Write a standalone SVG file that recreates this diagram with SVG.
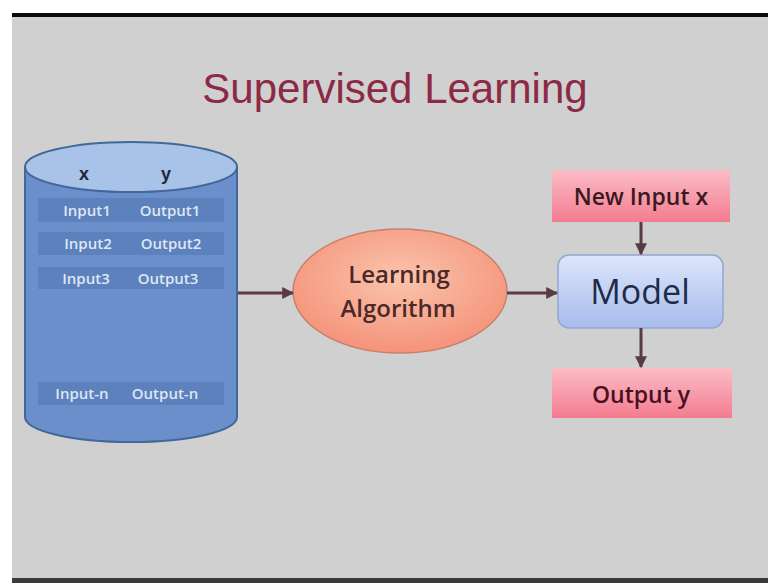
<svg xmlns="http://www.w3.org/2000/svg" width="768" height="583" viewBox="0 0 768 583">
  <defs>
    <style>
      .row { fill: #5b7fba; opacity: 0.9; }
      .rowtxt { font-family: "Open Sans", "Liberation Sans", sans-serif; font-size: 15px; font-weight: 600; fill: #dfe7f5; text-anchor: middle; }
      .hdr { font-family: "Liberation Sans", sans-serif; font-size: 18px; font-weight: bold; fill: #1c2740; text-anchor: middle; }
      .lbl { font-family: "Open Sans", "Liberation Sans", sans-serif; font-weight: 600; text-anchor: middle; }
      .lbl.reg { font-weight: 400; }
      .conn { stroke: #5a3a44; stroke-width: 3; fill: none; marker-end: url(#ah); }
    </style>
    <marker id="ah" viewBox="0 0 10 10" refX="9" refY="5" markerWidth="4" markerHeight="4" orient="auto" markerUnits="strokeWidth">
      <path d="M0,0 L10,5 L0,10 z" fill="#5a3a44"/>
    </marker>
    <linearGradient id="pink" x1="0" y1="0" x2="0" y2="1">
      <stop offset="0" stop-color="#fbbcc6"/>
      <stop offset="1" stop-color="#f37c90"/>
    </linearGradient>
    <linearGradient id="blue" x1="0" y1="0" x2="0" y2="1">
      <stop offset="0" stop-color="#dde6fb"/>
      <stop offset="1" stop-color="#a7bcec"/>
    </linearGradient>
    <radialGradient id="salmon" cx="0.5" cy="0.4" r="0.6">
      <stop offset="0" stop-color="#fbc4ac"/>
      <stop offset="1" stop-color="#f4937a"/>
    </radialGradient>
  </defs>

  <rect x="0" y="0" width="768" height="583" fill="#ffffff"/>
  <rect x="12" y="17" width="756" height="561" fill="#d0d0d0"/>
  <rect x="12" y="13" width="756" height="4" fill="#0a0a0a"/>
  <rect x="12" y="578" width="756" height="5" fill="#3a3a3a"/>

  <text x="395" y="103" font-family="Liberation Sans, sans-serif" font-size="42" fill="#8c2a45" text-anchor="middle">Supervised Learning</text>

  <g id="dataset">
    <path d="M25,167 L25,417 A106,25 0 0 0 237,417 L237,167 Z" fill="#6b8fcb" stroke="#41679b" stroke-width="2"/>
    <ellipse cx="131" cy="167" rx="106" ry="25" fill="#a9c3e8" stroke="#41679b" stroke-width="2"/>
    <text class="hdr" x="84" y="180">x</text>
    <text class="hdr" x="166" y="180">y</text>
    <rect class="row" x="38" y="198" width="186" height="24"/>
    <rect class="row" x="38" y="232" width="186" height="23"/>
    <rect class="row" x="38" y="267" width="186" height="22"/>
    <rect class="row" x="38" y="382" width="186" height="23"/>
    <text class="rowtxt" x="87" y="216">Input1</text>
    <text class="rowtxt" x="170" y="216">Output1</text>
    <text class="rowtxt" x="88" y="249">Input2</text>
    <text class="rowtxt" x="171" y="249">Output2</text>
    <text class="rowtxt" x="86" y="284">Input3</text>
    <text class="rowtxt" x="168" y="284">Output3</text>
    <text class="rowtxt" x="82" y="399">Input-n</text>
    <text class="rowtxt" x="165" y="399">Output-n</text>
  </g>

  <g id="learning-algorithm">
    <ellipse cx="400" cy="291" rx="107" ry="62" fill="url(#salmon)" stroke="#c9816c" stroke-width="1.5"/>
    <text class="lbl" x="399" y="283" font-size="24" fill="#4a2a28">Learning</text>
    <text class="lbl" x="398" y="317" font-size="24" fill="#4a2a28">Algorithm</text>
  </g>

  <g id="model">
    <rect x="558" y="255" width="165" height="73" rx="11" fill="url(#blue)" stroke="#93a6d2" stroke-width="1.5"/>
    <text class="lbl reg" x="640" y="304" font-size="34" fill="#1d2b48">Model</text>
  </g>

  <g id="new-input">
    <rect x="552" y="170" width="178" height="52" fill="url(#pink)"/>
    <text class="lbl" x="641" y="205" font-size="23" fill="#3a1a1e">New Input x</text>
  </g>

  <g id="output-y">
    <rect x="552" y="368" width="180" height="50" fill="url(#pink)"/>
    <text class="lbl" x="641" y="403" font-size="23" fill="#4a1020">Output y</text>
  </g>

  <g id="connectors">
    <line class="conn" x1="238" y1="293" x2="293" y2="293"/>
    <line class="conn" x1="507" y1="293" x2="557" y2="293"/>
    <line class="conn" x1="641" y1="222" x2="641" y2="254"/>
    <line class="conn" x1="641" y1="328" x2="641" y2="367"/>
  </g>
</svg>
